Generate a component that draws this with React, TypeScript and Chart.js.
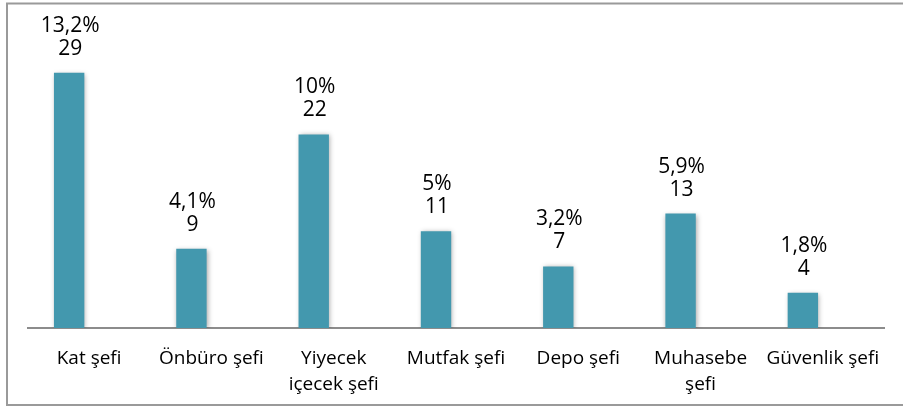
import React, { useEffect, useRef } from "react";
import { Chart, registerables } from "chart.js";

Chart.register(...registerables);

const categories: (string | string[])[] = [
  "Kat şefi",
  "Önbüro şefi",
  ["Yiyecek", "içecek şefi"],
  "Mutfak şefi",
  "Depo şefi",
  ["Muhasebe", "şefi"],
  "Güvenlik şefi",
];
const counts = [29, 9, 22, 11, 7, 13, 4];
const percents = ["13,2%", "4,1%", "10%", "5%", "3,2%", "5,9%", "1,8%"];
const emptySeries = [null, null, null, null, null, null, null];

const FONT = "'Open Sans', 'Noto Sans', sans-serif";

export default function App() {
  const ref = useRef<HTMLCanvasElement | null>(null);

  useEffect(() => {
    if (!ref.current) return;

    const framePlugin = {
      id: "frame",
      beforeDraw(chart: any) {
        const ctx = chart.ctx;
        ctx.save();
        ctx.strokeStyle = "#9a9a9a";
        ctx.lineWidth = 2;
        ctx.beginPath();
        ctx.moveTo(903, 3.5);
        ctx.lineTo(7, 3.5);
        ctx.lineTo(7, 405);
        ctx.lineTo(903, 405);
        ctx.stroke();
        ctx.restore();
      },
    };

    const barPlugin = {
      id: "barDeco",
      beforeDatasetsDraw(chart: any) {
        const ctx = chart.ctx;
        ctx.save();
        ctx.shadowColor = "rgba(0,0,0,0.35)";
        ctx.shadowBlur = 5;
        ctx.shadowOffsetX = 1;
        ctx.shadowOffsetY = 1;
      },
      afterDatasetsDraw(chart: any) {
        const ctx = chart.ctx;
        ctx.restore();
        const meta = chart.getDatasetMeta(0);
        ctx.save();
        ctx.fillStyle = "#000";
        ctx.font = `21px ${FONT}`;
        ctx.textAlign = "center";
        ctx.textBaseline = "alphabetic";
        meta.data.forEach((bar: any, i: number) => {
          const x = bar.x + 1;
          ctx.fillText(String(counts[i]), x, bar.y - 18);
          ctx.fillText(percents[i], x, bar.y - 41);
        });
        ctx.restore();
      },
    };

    const chart = new Chart(ref.current, {
      type: "bar",
      data: {
        labels: categories,
        datasets: [
          {
            data: counts,
            backgroundColor: "#4398ae",
            borderWidth: 0,
            categoryPercentage: 0.654,
            barPercentage: 0.76,
          },
          {
            data: emptySeries as any,
            backgroundColor: "#4398ae",
            categoryPercentage: 0.654,
            barPercentage: 0.76,
          },
        ],
      },
      options: {
        responsive: false,
        animation: false,
        devicePixelRatio: 1,
        layout: { padding: { left: 28, right: 19, top: 20, bottom: 0 } },
        plugins: {
          legend: { display: false },
          tooltip: { enabled: false },
        },
        scales: {
          x: {
            grid: { display: false, drawTicks: false, tickLength: 0 },
            border: { display: true, color: "#8c8c8c", width: 2 },
            ticks: {
              color: "#000",
              font: { family: FONT, size: 19, lineHeight: 1.38 },
              padding: 17,
              maxRotation: 0,
              minRotation: 0,
              autoSkip: false,
            },
            afterFit: (axis: any) => {
              axis.height = 79;
            },
          },
          y: {
            display: false,
            min: 0,
            max: 35,
          },
        },
      },
      plugins: [framePlugin, barPlugin],
    });

    return () => chart.destroy();
  }, []);

  return (
    <div style={{ position: "fixed", left: 0, top: 0, width: 903, height: 407, background: "#fff" }}>
      <canvas ref={ref} width={903} height={407} style={{ display: "block" }} />
    </div>
  );
}
